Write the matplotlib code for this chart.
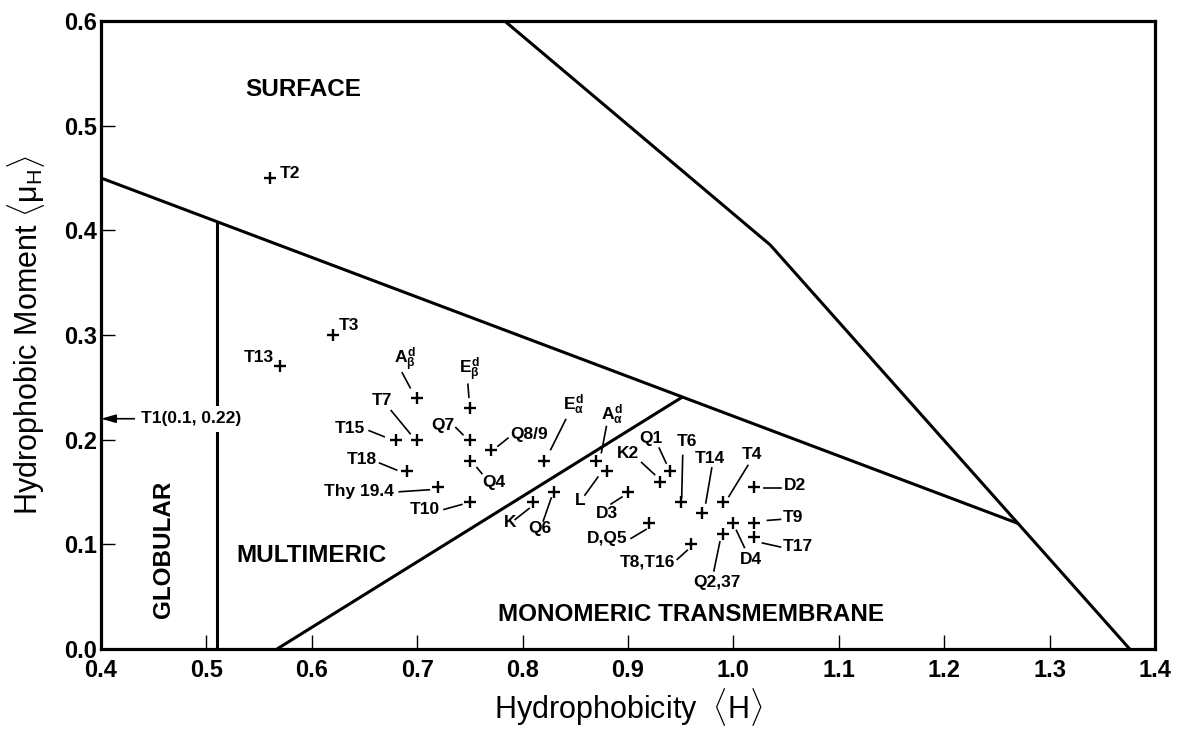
import matplotlib.pyplot as plt
import matplotlib.transforms as mtransforms
import numpy as np

plt.rcParams['font.family'] = ['Liberation Sans', 'DejaVu Sans']
plt.rcParams['font.weight'] = 'bold'
plt.rcParams['mathtext.fontset'] = 'custom'
plt.rcParams['mathtext.rm'] = 'Liberation Sans:bold'
plt.rcParams['mathtext.it'] = 'Liberation Sans:bold'
plt.rcParams['mathtext.bf'] = 'Liberation Sans:bold'

# segments: name, mean hydrophobicity <H>, mean hydrophobic moment <muH>
names = ['T2', 'T3', 'T13', r'$A_\beta^d$', r'$E_\beta^d$', 'T7', 'T15', 'Q7', 'Q8/9',
         'Q4', 'T18', 'Thy 19.4', 'T10', r'$E_\alpha^d$', r'$A_\alpha^d$', 'L', 'K',
         'Q6', 'D3', 'K2', 'Q1', 'T6', 'T14', 'T4', 'D2', 'T9', 'T17', 'D4',
         'Q2,37', 'T8,T16', 'D,Q5']
hydro = [0.56, 0.62, 0.57, 0.70, 0.75, 0.70, 0.68, 0.75, 0.77,
         0.75, 0.69, 0.72, 0.75, 0.82, 0.87, 0.88, 0.81,
         0.83, 0.90, 0.93, 0.94, 0.95, 0.97, 0.99, 1.02, 1.02, 1.02, 1.00,
         0.99, 0.96, 0.92]
moment = [0.45, 0.30, 0.27, 0.24, 0.23, 0.20, 0.20, 0.20, 0.19,
          0.18, 0.17, 0.155, 0.14, 0.18, 0.18, 0.17, 0.14,
          0.15, 0.15, 0.16, 0.17, 0.14, 0.13, 0.14, 0.155, 0.12, 0.107, 0.12,
          0.11, 0.10, 0.12]

# region boundaries
upper_h = [0.783, 1.035, 1.376]
upper_m = [0.6, 0.386, 0.0]
lower_h = [0.4, 1.27]
lower_m = [0.45, 0.12]
diag_h = [0.567, 0.952]
diag_m = [0.0, 0.241]
glob_h = [0.51, 0.51]
glob_m = [0.0, 0.408]

# label placement in pixels from the point (y down): text centre, leader line
place = {
    'T2': (20, -5, None),
    'T3': (16, -10, None),
    'T13': (-21, -9, None),
    r'$A_\beta^d$': (-12, -38, (-15, -25, -7, -10)),
    r'$E_\beta^d$': (0, -38, (-2, -24, -1, -11)),
    'T7': (-35, -39, (-26, -29, -7, -6)),
    'T15': (-46, -11, (-27, -9, -12, -3)),
    'Q7': (-27, -14, (-14, -12, -7, -5)),
    'Q8/9': (38, -16, (7, -4, 17, -12)),
    'Q4': (24, 22, (7, 7, 12, 13)),
    'T18': (-45, -12, (-27, -8, -10, -1)),
    'Thy 19.4': (-79, 5, (-39, 5, -9, 3)),
    'T10': (-45, 7, (-26, 7, -8, 2)),
    r'$E_\alpha^d$': (30, -56, (22, -41, 7, -11)),
    r'$A_\alpha^d$': (16, -46, (10, -34, 5, -8)),
    'L': (-27, 29, (-22, 24, -9, 6)),
    'K': (-23, 20, (-18, 17, -4, 6)),
    'Q6': (-14, 36, (-11, 29, -3, 6)),
    'D3': (-21, 21, (-17, 12, -6, 5)),
    'K2': (-32, -28, (-18, -19, -5, -7)),
    'Q1': (-19, -33, (-11, -23, -4, -8)),
    'T6': (6, -61, (2, -47, 1, -5)),
    'T14': (8, -54, (10, -45, 4, -10)),
    'T4': (29, -48, (25, -37, 6, -6)),
    'D2': (41, -1, (10, 1, 27, 1)),
    'T9': (38, -6, (13, -3, 26, -4)),
    'T17': (43, 9, (8, 6, 26, 10)),
    'D4': (18, 36, (3, 7, 11, 24)),
    'Q2,37': (-6, 49, (-9, 37, -3, 8)),
    'T8,T16': (-44, 18, (-14, 15, -4, 6)),
    'D,Q5': (-42, 15, (-18, 15, -3, 6)),
}

fig = plt.figure(figsize=(11.8, 7.32), dpi=100)
ax = fig.add_axes([101 / 1180, 83 / 732, 1054 / 1180, 628 / 732])
ax.set_xlim(0.4, 1.4)
ax.set_ylim(0.0, 0.6)

lw = 2.2
ax.plot(upper_h, upper_m, color='black', lw=lw, solid_capstyle='butt')
ax.plot(lower_h, lower_m, color='black', lw=lw, solid_capstyle='butt')
ax.plot(diag_h, diag_m, color='black', lw=lw, solid_capstyle='butt')
ax.plot(glob_h, glob_m, color='black', lw=lw, solid_capstyle='butt')

ax.plot(hydro, moment, ls='none', marker='+', ms=8, mew=1.7, color='black')

for name, h, m in zip(names, hydro, moment):
    tr = mtransforms.Affine2D().scale(1, -1) + mtransforms.ScaledTranslation(h, m, ax.transData)
    tx, ty, lead = place[name]
    ax.text(tx, ty, name, transform=tr, ha='center', va='center', fontsize=12.5)
    if lead is not None:
        ax.plot([lead[0], lead[2]], [lead[1], lead[3]], transform=tr,
                color='black', lw=1.2)

ax.annotate('T1(0.1, 0.22)', xy=(0.4, 0.22), xytext=(40, 0),
            textcoords='offset pixels', ha='left', va='center', fontsize=12.5,
            bbox=dict(fc='white', ec='none', pad=4),
            arrowprops=dict(arrowstyle='-|>,head_length=0.7,head_width=0.2',
                            color='black', lw=1.2, shrinkA=0, shrinkB=0))

ax.text(0.592, 0.535, 'SURFACE', ha='center', va='center', fontsize=17.5)
ax.text(0.600, 0.089, 'MULTIMERIC', ha='center', va='center', fontsize=17.5)
ax.text(0.459, 0.095, 'GLOBULAR', ha='center', va='center', fontsize=17.5, rotation=90)
ax.text(0.960, 0.0325, 'MONOMERIC TRANSMEMBRANE', ha='center', va='center', fontsize=17.5)

ax.set_xticks(np.arange(0.4, 1.41, 0.1))
ax.set_yticks(np.arange(0.0, 0.61, 0.1))
ax.xaxis.set_major_formatter(plt.FormatStrFormatter('%.1f'))
ax.yaxis.set_major_formatter(plt.FormatStrFormatter('%.1f'))
ax.tick_params(direction='in', length=10, width=1.0, labelsize=17)
ax.tick_params(axis='x', pad=7)
ax.tick_params(axis='y', pad=3)
for s in ax.spines.values():
    s.set_linewidth(2.3)

ax.set_xlabel(r'Hydrophobicity  $\langle\mathregular{H}\rangle$', fontsize=22,
              fontweight='normal', labelpad=3)
ax.set_ylabel(r'Hydrophobic Moment $\langle\mathregular{\mu_H}\rangle$', fontsize=22,
              fontweight='normal', labelpad=12)

fig.savefig('out.png', dpi=100)
